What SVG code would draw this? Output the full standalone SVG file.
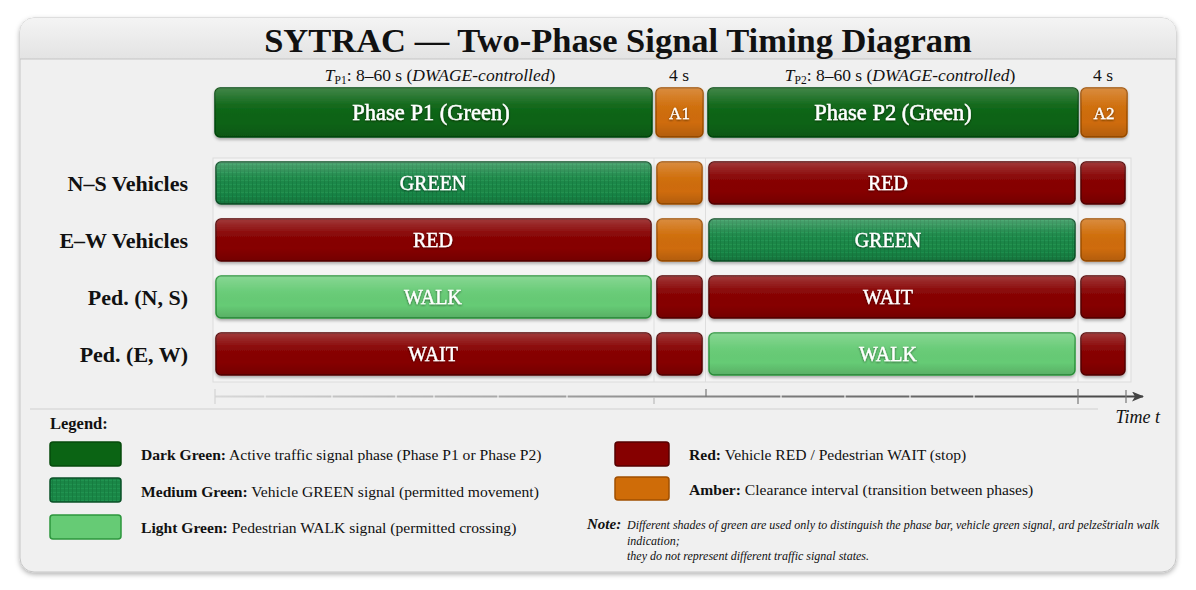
<svg xmlns="http://www.w3.org/2000/svg" width="1196" height="590" viewBox="0 0 1196 590">
<defs>
<style>
text{font-family:"Liberation Serif","Times New Roman",serif;fill:#111}
.title{font-size:34.5px;font-weight:bold;text-anchor:middle}
.sub{font-size:17.5px;text-anchor:middle}
.rowlab{font-size:22px;font-weight:bold;text-anchor:end}
.bartxt{font-size:20px;fill:#fff;stroke:#fff;stroke-width:0.35;text-anchor:middle;filter:url(#tsh)}
.phasetxt{font-size:22.5px;fill:#fff;stroke:#fff;stroke-width:0.45;text-anchor:middle;filter:url(#tsh)}
.ambtxt{font-size:17px;fill:#fff;stroke:#fff;stroke-width:0.3;text-anchor:middle;filter:url(#tsh)}
.leg{font-size:15.6px}
.note{font-size:12px;font-style:italic}
.dk{fill:#0b6414;stroke:#064a0b;stroke-width:1.5}
.md{fill:url(#medPat);stroke:#0b5228;stroke-width:1.5}
.lt{fill:#66cb75;stroke:#2c963c;stroke-width:1.5}
.rd{fill:#860000;stroke:#560000;stroke-width:1.5}
.am{fill:#cf6c08;stroke:#a04f00;stroke-width:1.5}
.gloss{fill:url(#gloss);stroke:none;pointer-events:none}
.bar{filter:url(#sh)}
.vsep{stroke:#dedede;stroke-width:1}
.tick{stroke:#777;stroke-width:1.2}
.gap{stroke:#f4f4f4;stroke-width:1.2}
</style>
<pattern id="medPat" width="4" height="4" patternUnits="userSpaceOnUse">
<rect width="4" height="4" fill="#1a8747"/>
<rect width="4" height="1" fill="#229653" opacity="0.8"/>
<rect width="1" height="4" fill="#157a3e" opacity="0.8"/>
</pattern>
<linearGradient id="gloss" x1="0" y1="0" x2="0" y2="1">
<stop offset="0" stop-color="#fff" stop-opacity="0.22"/>
<stop offset="0.35" stop-color="#fff" stop-opacity="0.04"/>
<stop offset="0.7" stop-color="#000" stop-opacity="0"/>
<stop offset="1" stop-color="#000" stop-opacity="0.14"/>
</linearGradient>
<linearGradient id="band" x1="0" y1="0" x2="0" y2="1">
<stop offset="0" stop-color="#f4f4f4"/>
<stop offset="1" stop-color="#e3e3e3"/>
</linearGradient>
<linearGradient id="axisg" x1="215" y1="0" x2="1145" y2="0" gradientUnits="userSpaceOnUse">
<stop offset="0" stop-color="#d8d8d8"/>
<stop offset="0.5" stop-color="#8a8a8a"/>
<stop offset="1" stop-color="#444"/>
</linearGradient>
<filter id="sh" x="-5%" y="-20%" width="110%" height="150%">
<feDropShadow dx="0" dy="2" stdDeviation="1.6" flood-color="#000" flood-opacity="0.3"/>
</filter>
<filter id="card" x="-3%" y="-3%" width="106%" height="108%">
<feDropShadow dx="0" dy="2" stdDeviation="2.5" flood-color="#000" flood-opacity="0.3"/>
</filter>
<filter id="tsh" x="-10%" y="-30%" width="120%" height="160%">
<feDropShadow dx="0" dy="1" stdDeviation="0.8" flood-color="#000" flood-opacity="0.55"/>
</filter>
<marker id="arr" markerWidth="12" markerHeight="10" refX="11" refY="5" orient="auto" markerUnits="userSpaceOnUse">
<path d="M0,0 L12,5 L0,10 L3,5 Z" fill="#444"/>
</marker>
</defs>

<rect width="1196" height="590" fill="#ffffff"/>

<g id="card">
<rect x="20" y="18" width="1156" height="554" rx="14" fill="#f0f0f0" stroke="#c6c6c6" stroke-width="1" filter="url(#card)"/>
<path d="M34,18 H1162 A14,14 0 0 1 1176,32 V59 H20 V32 A14,14 0 0 1 34,18 Z" fill="url(#band)"/>
<line x1="20" y1="59" x2="1176" y2="59" stroke="#c4c4c4" stroke-width="1.2"/>
<text class="title" x="618" y="52">SYTRAC — Two-Phase Signal Timing Diagram</text>
</g>

<g id="header-labels">
<text class="sub" x="440" y="81"><tspan font-style="italic">T</tspan><tspan font-size="11.5" dy="3">P1</tspan><tspan dy="-3">: 8–60 s (</tspan><tspan font-style="italic">DWAGE-controlled</tspan>)</text>
<text class="sub" x="679" y="81">4 s</text>
<text class="sub" x="900" y="81"><tspan font-style="italic">T</tspan><tspan font-size="11.5" dy="3">P2</tspan><tspan dy="-3">: 8–60 s (</tspan><tspan font-style="italic">DWAGE-controlled</tspan>)</text>
<text class="sub" x="1103" y="81">4 s</text>
</g>

<g id="phase-bar">
<g id="phase-p1" class="bar"><rect class="dk" x="215" y="88" width="437" height="49" rx="5"/><rect class="gloss" x="215" y="88" width="437" height="49" rx="5"/><text class="phasetxt" x="431" y="120">Phase P1 (Green)</text></g>
<g id="phase-a1" class="bar"><rect class="am" x="656" y="88" width="47" height="49" rx="5"/><rect class="gloss" x="656" y="88" width="47" height="49" rx="5"/><text class="ambtxt" x="679.5" y="119">A1</text></g>
<g id="phase-p2" class="bar"><rect class="dk" x="708" y="88" width="370" height="49" rx="5"/><rect class="gloss" x="708" y="88" width="370" height="49" rx="5"/><text class="phasetxt" x="893" y="120">Phase P2 (Green)</text></g>
<g id="phase-a2" class="bar"><rect class="am" x="1081" y="88" width="46" height="49" rx="5"/><rect class="gloss" x="1081" y="88" width="46" height="49" rx="5"/><text class="ambtxt" x="1104" y="119">A2</text></g>
</g>

<g id="grid">
<rect x="213" y="158" width="918" height="224" fill="#f4f4f4" stroke="#dcdcdc" stroke-width="1"/>
<line class="vsep" x1="654" y1="158" x2="654" y2="382"/>
<line class="vsep" x1="705.5" y1="158" x2="705.5" y2="382"/>
<line class="vsep" x1="1078" y1="158" x2="1078" y2="382"/>
</g>

<g id="row-labels">
<text class="rowlab" x="188" y="191">N–S Vehicles</text>
<text class="rowlab" x="188" y="248">E–W Vehicles</text>
<text class="rowlab" x="188" y="305">Ped. (N, S)</text>
<text class="rowlab" x="188" y="362">Ped. (E, W)</text>
</g>

<g id="row-ns">
<g class="bar"><rect class="md" x="216" y="162" width="435" height="42" rx="5"/><rect class="gloss" x="216" y="162" width="435" height="42" rx="5"/><text class="bartxt" x="433" y="190">GREEN</text></g>
<g class="bar"><rect class="am" x="657" y="162" width="45" height="42" rx="5"/><rect class="gloss" x="657" y="162" width="45" height="42" rx="5"/></g>
<g class="bar"><rect class="rd" x="709" y="162" width="366" height="42" rx="5"/><rect class="gloss" x="709" y="162" width="366" height="42" rx="5"/><text class="bartxt" x="888" y="190">RED</text></g>
<g class="bar"><rect class="rd" x="1081" y="162" width="44" height="42" rx="5"/><rect class="gloss" x="1081" y="162" width="44" height="42" rx="5"/></g>
</g>

<g id="row-ew">
<g class="bar"><rect class="rd" x="216" y="219" width="435" height="42" rx="5"/><rect class="gloss" x="216" y="219" width="435" height="42" rx="5"/><text class="bartxt" x="433" y="247">RED</text></g>
<g class="bar"><rect class="am" x="657" y="219" width="45" height="42" rx="5"/><rect class="gloss" x="657" y="219" width="45" height="42" rx="5"/></g>
<g class="bar"><rect class="md" x="709" y="219" width="366" height="42" rx="5"/><rect class="gloss" x="709" y="219" width="366" height="42" rx="5"/><text class="bartxt" x="888" y="247">GREEN</text></g>
<g class="bar"><rect class="am" x="1081" y="219" width="44" height="42" rx="5"/><rect class="gloss" x="1081" y="219" width="44" height="42" rx="5"/></g>
</g>

<g id="row-ped-ns">
<g class="bar"><rect class="lt" x="216" y="276" width="435" height="42" rx="5"/><rect class="gloss" x="216" y="276" width="435" height="42" rx="5"/><text class="bartxt" x="433" y="304">WALK</text></g>
<g class="bar"><rect class="rd" x="657" y="276" width="45" height="42" rx="5"/><rect class="gloss" x="657" y="276" width="45" height="42" rx="5"/></g>
<g class="bar"><rect class="rd" x="709" y="276" width="366" height="42" rx="5"/><rect class="gloss" x="709" y="276" width="366" height="42" rx="5"/><text class="bartxt" x="888" y="304">WAIT</text></g>
<g class="bar"><rect class="rd" x="1081" y="276" width="44" height="42" rx="5"/><rect class="gloss" x="1081" y="276" width="44" height="42" rx="5"/></g>
</g>

<g id="row-ped-ew">
<g class="bar"><rect class="rd" x="216" y="333" width="435" height="42" rx="5"/><rect class="gloss" x="216" y="333" width="435" height="42" rx="5"/><text class="bartxt" x="433" y="361">WAIT</text></g>
<g class="bar"><rect class="rd" x="657" y="333" width="45" height="42" rx="5"/><rect class="gloss" x="657" y="333" width="45" height="42" rx="5"/></g>
<g class="bar"><rect class="lt" x="709" y="333" width="366" height="42" rx="5"/><rect class="gloss" x="709" y="333" width="366" height="42" rx="5"/><text class="bartxt" x="888" y="361">WALK</text></g>
<g class="bar"><rect class="rd" x="1081" y="333" width="44" height="42" rx="5"/><rect class="gloss" x="1081" y="333" width="44" height="42" rx="5"/></g>
</g>

<g id="connectors">
<line x1="215" y1="396.5" x2="1143" y2="396.5" stroke="url(#axisg)" stroke-width="1.8" marker-end="url(#arr)"/>
<line class="gap" x1="265" y1="395" x2="265" y2="398"/>
<line class="gap" x1="332" y1="395" x2="332" y2="398"/>
<line class="gap" x1="396" y1="395" x2="396" y2="398"/>
<line class="gap" x1="434" y1="395" x2="434" y2="398"/>
<line class="gap" x1="498" y1="395" x2="498" y2="398"/>
<line class="gap" x1="567" y1="395" x2="567" y2="398"/>
<line class="gap" x1="781" y1="395" x2="781" y2="398"/>
<line class="gap" x1="845" y1="395" x2="845" y2="398"/>
<line class="gap" x1="910" y1="395" x2="910" y2="398"/>
<line class="gap" x1="974" y1="395" x2="974" y2="398"/>
<line x1="215" y1="389" x2="215" y2="404" stroke="#d4d4d4" stroke-width="1.2"/>
<line x1="654" y1="397" x2="654" y2="404" stroke="#bbb" stroke-width="1.2"/>
<line class="tick" x1="706" y1="389" x2="706" y2="397"/>
<line class="tick" x1="1078" y1="389" x2="1078" y2="404"/>
<line class="tick" x1="1126" y1="390" x2="1126" y2="403"/>
<line x1="30" y1="409" x2="1098" y2="409" stroke="#cfcfcf" stroke-width="1.2"/>
<text x="1160" y="423" font-size="18" font-style="italic" text-anchor="end">Time t</text>
</g>

<g id="legend">
<text x="50" y="429" font-size="16.5" font-weight="bold">Legend:</text>
<g id="leg-dark"><rect class="dk" x="50" y="442" width="71" height="24" rx="3"/><text class="leg" x="141" y="460"><tspan font-weight="bold">Dark Green:</tspan> Active traffic signal phase (Phase P1 or Phase P2)</text></g>
<g id="leg-med"><rect class="md" x="50" y="478" width="71" height="24" rx="3"/><text class="leg" x="141" y="497"><tspan font-weight="bold">Medium Green:</tspan> Vehicle GREEN signal (permitted movement)</text></g>
<g id="leg-light"><rect class="lt" x="50" y="515" width="71" height="24" rx="3"/><text class="leg" x="141" y="533"><tspan font-weight="bold">Light Green:</tspan> Pedestrian WALK signal (permitted crossing)</text></g>
<g id="leg-red"><rect class="rd" x="615" y="442" width="54" height="24" rx="3"/><text class="leg" x="689" y="460"><tspan font-weight="bold">Red:</tspan> Vehicle RED / Pedestrian WAIT (stop)</text></g>
<g id="leg-amber"><rect class="am" x="615" y="477" width="54" height="23" rx="3"/><text class="leg" x="689" y="495"><tspan font-weight="bold">Amber:</tspan> Clearance interval (transition between phases)</text></g>
</g>

<g id="note">
<text x="587" y="529" font-size="15" font-weight="bold" font-style="italic">Note:</text>
<text class="note" x="627" y="529">Different shades of green are used only to distinguish the phase bar, vehicle green signal, ard pelzeštrialn walk</text>
<text class="note" x="627" y="545">indication;</text>
<text class="note" x="627" y="560">they do not represent different traffic signal states.</text>
</g>
</svg>
